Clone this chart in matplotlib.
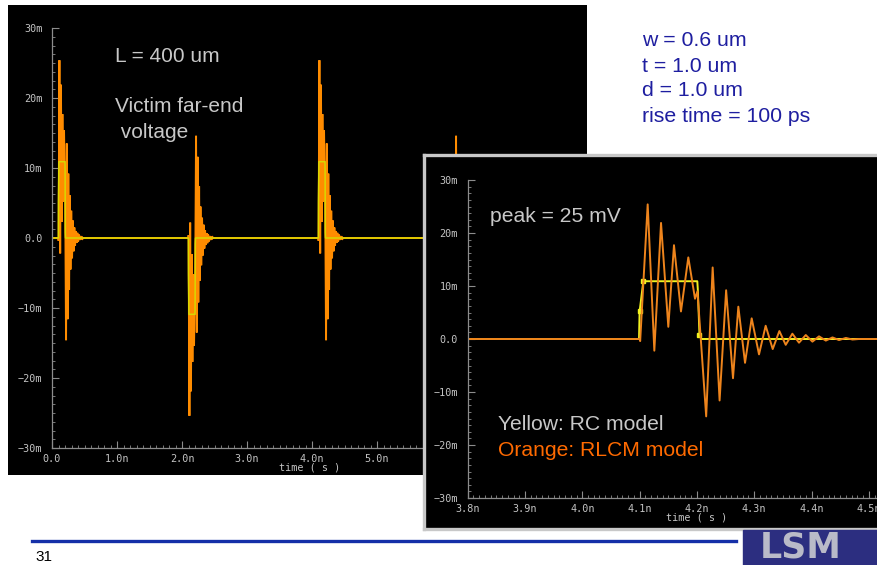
import matplotlib
matplotlib.use("Agg")
import matplotlib.pyplot as plt
from matplotlib.patches import Rectangle
from matplotlib.lines import Line2D
from matplotlib.ticker import MultipleLocator, AutoMinorLocator

# ---- data -------------------------------------------------------------
# RLCM (orange) far-end ringing after one aggressor edge: time after edge (ps), volts (mV)
rlcm_dt_ps = [0.0, 1.0, 14.1, 25.7, 37.4, 50.1, 60.0, 72.2, 85.0, 96.7, 101.0,
              116.2, 127.5, 139.6, 151.0, 163.0, 172.3, 184.0, 195.6, 208.4,
              220.0, 232.3, 243.9, 255.0, 266.6, 278.2, 290.0, 301.6, 313.1,
              325.0, 336.6, 348.0, 360.0, 371.5, 383.0]
rlcm_mv = [0.0, -0.4, 25.4, -2.2, 21.9, 2.3, 17.7, 5.2, 15.4, 7.6, 9.0,
           -14.6, 13.5, -11.6, 9.2, -7.4, 6.1, -4.5, 3.9, -2.9,
           2.5, -1.9, 1.5, -1.1, 1.0, -0.7, 0.75, -0.5, 0.5,
           -0.3, 0.3, -0.2, 0.2, -0.1, 0.0]

# RC (yellow) far-end response after one aggressor edge
rc_dt_ps = [-1.0, 0.0, 6.5, 100.7, 101.5, 104.5, 108.0]
rc_mv = [0.0, 5.2, 10.9, 10.9, 9.5, 0.8, 0.0]

# aggressor edges in the long run and their polarity
edge_times_ns = [0.1, 2.1, 4.1, 6.1]
edge_signs = [1, -1, 1, -1]

# axis ticks
volt_ticks_mv = [-30, -20, -10, 0, 10, 20, 30]
volt_tick_labels = ["\u221230m", "\u221220m", "\u221210m", "0.0", "10m", "20m", "30m"]
main_time_ticks_ns = [0, 1, 2, 3, 4, 5]
main_time_labels = ["0.0", "1.0n", "2.0n", "3.0n", "4.0n", "5.0n"]
zoom_time_ticks_ns = [3.8, 3.9, 4.0, 4.1, 4.2, 4.3, 4.4, 4.5]
zoom_time_labels = ["3.8n", "3.9n", "4.0n", "4.1n", "4.2n", "4.3n", "4.4n", "4.5n"]
zoom_edge_ns = 4.1

# ---- figure -----------------------------------------------------------
W, H = 877, 565
fig = plt.figure(figsize=(W / 100, H / 100), dpi=100, facecolor="white")


def box(x0, y0, x1, y1):
    """pixel box (top-left origin) -> figure rect"""
    return [x0 / W, 1 - y1 / H, (x1 - x0) / W, (y1 - y0) / H]


def px(x, y):
    return x / W, 1 - y / H


TXT = "Liberation Sans"
TICKFONT = "DejaVu Sans Mono"
GRID_GRAY = "#8c8c8c"
LABEL_GRAY = "#c4c4c4"


def style_axes(ax, xticks, xlabels, xminor):
    ax.set_facecolor("none")
    for s in ("top", "right"):
        ax.spines[s].set_visible(False)
    for s in ("left", "bottom"):
        ax.spines[s].set_color(GRID_GRAY)
        ax.spines[s].set_linewidth(0.9)
    ax.set_yticks(volt_ticks_mv, volt_tick_labels)
    ax.set_xticks(xticks, xlabels)
    ax.xaxis.set_minor_locator(MultipleLocator(xminor))
    ax.yaxis.set_minor_locator(AutoMinorLocator(8))
    ax.tick_params(which="major", direction="in", length=5, width=0.8,
                   color=GRID_GRAY, labelcolor=LABEL_GRAY, labelsize=7.3)
    ax.tick_params(axis="y", which="major", pad=7)
    ax.tick_params(axis="x", which="major", pad=4)
    ax.tick_params(which="minor", direction="in", length=2, width=0.6,
                   color=GRID_GRAY)
    for lab in ax.get_xticklabels() + ax.get_yticklabels():
        lab.set_family(TICKFONT)


# left black panel
bg = fig.add_axes(box(8, 5, 587, 475))
bg.set_facecolor("black")
bg.set_xticks([]); bg.set_yticks([])
for s in bg.spines.values():
    s.set_visible(False)

# long-run waveform
ax1 = fig.add_axes(box(52, 28, 572, 448))
t_or, v_or, t_rc, v_rc = [0.0], [0.0], [0.0], [0.0]
for e, sgn in zip(edge_times_ns, edge_signs):
    t_or += [e + d / 1000 for d in rlcm_dt_ps]
    v_or += [sgn * v for v in rlcm_mv]
    t_rc += [e + d / 1000 for d in rc_dt_ps]
    v_rc += [sgn * v for v in rc_mv]
t_or.append(8.0); v_or.append(0.0)
t_rc.append(8.0); v_rc.append(0.0)
ax1.plot(t_or, v_or, color="#ff8c00", lw=1.4, solid_joinstyle="miter")
ax1.plot(t_rc, v_rc, color="#d8d800", lw=1.1)
ax1.set_xlim(0, 8)
ax1.set_ylim(-30, 30)
style_axes(ax1, main_time_ticks_ns, main_time_labels, 0.1)
ax1.set_xlabel("time ( s )", family=TICKFONT, fontsize=7.3, color=LABEL_GRAY,
               labelpad=0)
ax1.xaxis.set_label_coords((310 - 52) / 520, -0.035)

# inset frame
frame = fig.add_axes(box(423.5, 154.5, 890, 528.5))
frame.set_facecolor("black")
frame.set_xticks([]); frame.set_yticks([])
for s in frame.spines.values():
    s.set_color("#c8c8c8")
    s.set_linewidth(2.4)

# zoomed waveform around the 4.1 ns edge
ax2 = fig.add_axes(box(467.7, 180, 880, 498))
ax2.plot([3.8] + [zoom_edge_ns + d / 1000 for d in rc_dt_ps] + [4.6],
         [0.0] + rc_mv + [0.0], color="#f2f220", lw=1.4,
         marker="s", markersize=2.2, markevery=[2, 3, 6])
ax2.plot([3.8] + [zoom_edge_ns + d / 1000 for d in rlcm_dt_ps] + [4.6],
         [0.0] + rlcm_mv + [0.0], color="#ee841c", lw=1.4)
ax2.set_xlim(3.8, 3.8 + (880 - 467.7) / 573)
ax2.set_ylim(-30, 30)
style_axes(ax2, zoom_time_ticks_ns, zoom_time_labels, 0.01)
ax2.set_xlabel("time ( s )", family=TICKFONT, fontsize=7.3, color=LABEL_GRAY,
               labelpad=0)
ax2.xaxis.set_label_coords((697 - 467.7) / (880 - 467.7), -0.045)

# ---- annotations ------------------------------------------------------
fig.text(*px(115, 56), "L = 400 um", family=TXT, fontsize=15,
         color="#c8c8c8", va="center")
fig.text(*px(115, 106), "Victim far-end", family=TXT, fontsize=15,
         color="#c8c8c8", va="center")
fig.text(*px(115, 133), " voltage", family=TXT, fontsize=15,
         color="#c8c8c8", va="center")

for i, line in enumerate(["w = 0.6 um", "t = 1.0 um", "d = 1.0 um",
                          "rise time = 100 ps"]):
    fig.text(*px(642, 41 + i * 25), line, family=TXT, fontsize=15.3,
             color="#1e1ea0", va="center")

fig.text(*px(490, 216), "peak = 25 mV", family=TXT, fontsize=15.2,
         color="#c8c8c8", va="center")
fig.text(*px(498, 424), "Yellow: RC model", family=TXT, fontsize=15.2,
         color="#c8c8c8", va="center")
fig.text(*px(498, 450), "Orange: RLCM model", family=TXT, fontsize=15.2,
         color="#ff6a00", va="center")

# footer rule, page number and logo
fig.add_artist(Line2D([32 / W, 736 / W], [1 - 541 / H, 1 - 541 / H],
                      color="#1530a8", lw=2.4, transform=fig.transFigure))
fig.text(*px(35, 557), "31", family=TXT, fontsize=11, color="black",
         va="center")
fig.add_artist(Rectangle(px(743, 565), (W - 743) / W, 35 / H,
                         color="#2c2e80", transform=fig.transFigure))
fig.text(*px(760, 530), "LSM", family="DejaVu Sans", fontweight="bold",
         fontsize=25, color="#b9bac8", va="top")

fig.savefig("out.png", dpi=100, facecolor="white")
